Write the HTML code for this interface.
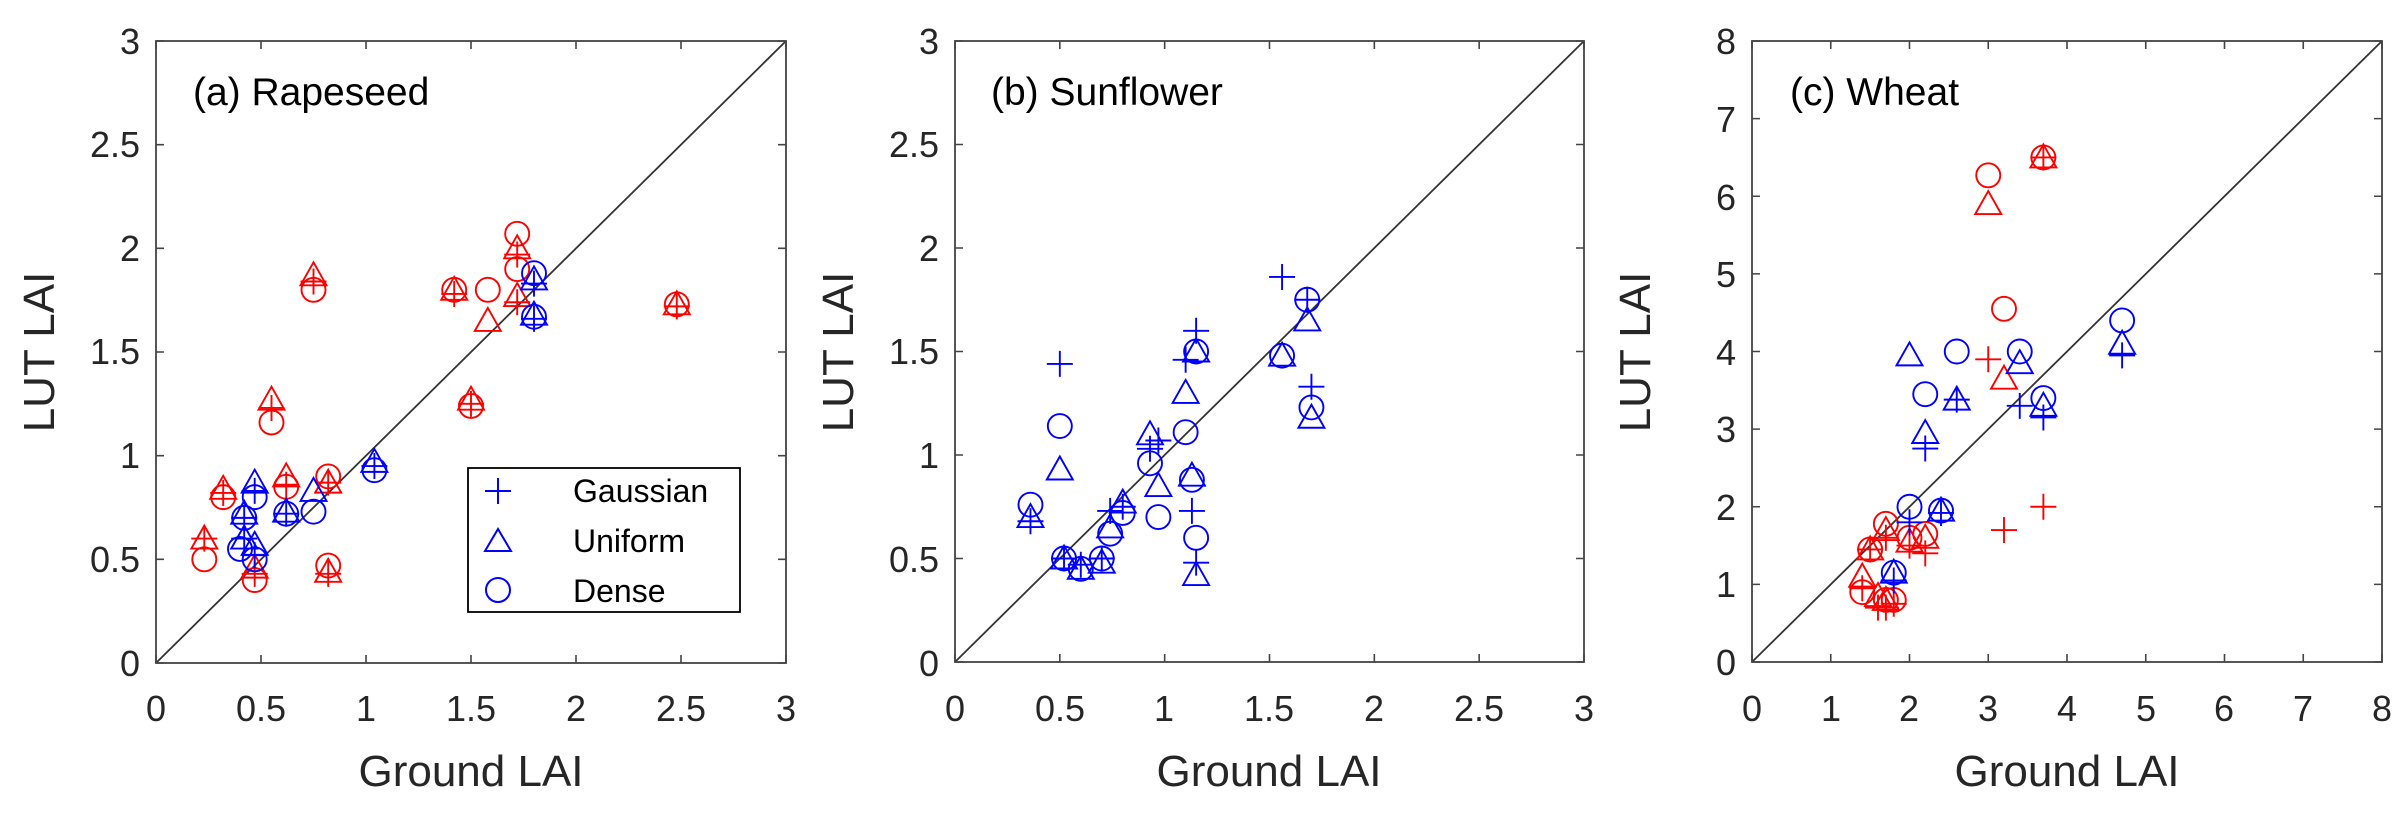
<!DOCTYPE html>
<html><head><meta charset="utf-8"><style>
html,body{margin:0;padding:0;background:#fff;}
svg text{font-family:"Liberation Sans",sans-serif;fill:#262626;}
</style></head><body>
<svg id="s" xmlns="http://www.w3.org/2000/svg" width="2400" height="819" viewBox="0 0 2400 819">
<rect width="2400" height="819" fill="#fff"/>
<g id="plots"></g>
<g font-size="36" text-anchor="middle">
<text x="156" y="721">0</text><text x="261" y="721">0.5</text><text x="366" y="721">1</text><text x="471" y="721">1.5</text><text x="576" y="721">2</text><text x="681" y="721">2.5</text><text x="786" y="721">3</text>
<text x="955" y="721">0</text><text x="1060" y="721">0.5</text><text x="1164" y="721">1</text><text x="1269" y="721">1.5</text><text x="1374" y="721">2</text><text x="1479" y="721">2.5</text><text x="1584" y="721">3</text>
<text x="1752" y="721">0</text><text x="1831" y="721">1</text><text x="1909" y="721">2</text><text x="1988" y="721">3</text><text x="2067" y="721">4</text><text x="2146" y="721">5</text><text x="2224" y="721">6</text><text x="2303" y="721">7</text><text x="2382" y="721">8</text>
</g>
<g font-size="36" text-anchor="end">
<text x="140" y="676">0</text><text x="140" y="572">0.5</text><text x="140" y="468">1</text><text x="140" y="364">1.5</text><text x="140" y="261">2</text><text x="140" y="157">2.5</text><text x="140" y="54">3</text>
<text x="939" y="676">0</text><text x="939" y="572">0.5</text><text x="939" y="468">1</text><text x="939" y="364">1.5</text><text x="939" y="261">2</text><text x="939" y="157">2.5</text><text x="939" y="54">3</text>
<text x="1736" y="675">0</text><text x="1736" y="597">1</text><text x="1736" y="520">2</text><text x="1736" y="442">3</text><text x="1736" y="365">4</text><text x="1736" y="287">5</text><text x="1736" y="210">6</text><text x="1736" y="132">7</text><text x="1736" y="54">8</text>
</g>
<g font-size="44" text-anchor="middle">
<text x="471" y="786">Ground LAI</text><text x="1269" y="786">Ground LAI</text><text x="2067" y="786">Ground LAI</text>
<text transform="translate(54,352) rotate(-90)">LUT LAI</text>
<text transform="translate(853,352) rotate(-90)">LUT LAI</text>
<text transform="translate(1650,352) rotate(-90)">LUT LAI</text>
</g>
<g font-size="39">
<text x="193" y="105" style="fill:#000">(a) Rapeseed</text>
<text x="991" y="105" style="fill:#000">(b) Sunflower</text>
<text x="1790" y="105" style="fill:#000">(c) Wheat</text>
</g>
<rect x="468" y="468" width="272" height="144" fill="#fff" stroke="#000" stroke-width="1.8"/>
<g stroke="#00f" stroke-width="2" fill="none">
<path d="M485 491h26M498 478v26"/>
<path d="M485 551L498 529L511 551Z"/>
<circle cx="498" cy="590" r="12"/>
</g>
<g font-size="32"><text x="573" y="502" style="fill:#000">Gaussian</text><text x="573" y="552" style="fill:#000">Uniform</text><text x="573" y="602" style="fill:#000">Dense</text></g>
</svg>
<script>
var NS="http://www.w3.org/2000/svg",g=document.getElementById('plots');
function el(t,a){var e=document.createElementNS(NS,t);for(var k in a)e.setAttribute(k,a[k]);g.appendChild(e);return e;}
var P=[{l:156,r:786,t:41,b:663,m:3,nt:6},{l:955,r:1584,t:41,b:662,m:3,nt:6},{l:1752,r:2382,t:41,b:662,m:8,nt:8}];
P.forEach(function(p){
 el('line',{x1:p.l,y1:p.b,x2:p.r,y2:p.t,stroke:'#333','stroke-width':1.8});
 var d='';
 for(var i=0;i<=p.nt;i++){var x=p.l+(p.r-p.l)*i/p.nt,y=p.b-(p.b-p.t)*i/p.nt;
  d+='M'+x+' '+p.b+'v-8M'+x+' '+p.t+'v8M'+p.l+' '+y+'h8M'+p.r+' '+y+'h-8';}
 el('path',{d:d,stroke:'#444','stroke-width':1.6,fill:'none'});
 el('rect',{x:p.l,y:p.t,width:p.r-p.l,height:p.b-p.t,fill:'none',stroke:'#444','stroke-width':1.8});
});
function mk(pi,c,type,x,y){var p=P[pi];var X=p.l+(p.r-p.l)*x/p.m,Y=p.b-(p.b-p.t)*y/p.m;
 var col=c=='r'?'#f00':'#00f',a={stroke:col,'stroke-width':1.9,fill:'none'};
 if(type=='p'){a.d='M'+(X-13)+' '+Y+'h26M'+X+' '+(Y-13)+'v26';el('path',a);}
 else if(type=='t'){a.d='M'+(X-13)+' '+(Y+10)+'L'+X+' '+(Y-13)+'L'+(X+13)+' '+(Y+10)+'Z';el('path',a);}
 else{a.cx=X;a.cy=Y;a.r=12;el('circle',a);}}
function grp(pi,c,x,t,p,o){if(t!=null)mk(pi,c,'t',x,t);if(p!=null)mk(pi,c,'p',x,p);if(o!=null)mk(pi,c,'o',x,o);}
[[0.23,0.6,0.6,0.5],[0.32,0.84,0.82,0.8],[0.47,0.46,0.43,0.4],[0.55,1.27,1.23,1.16],[0.62,0.9,0.86,0.85],[0.75,1.87,1.84,1.8],[0.82,0.87,0.87,0.9],[0.82,0.44,0.43,0.47],[1.42,1.8,1.78,1.8],[1.5,1.27,1.25,1.24],[1.58,1.65,null,1.8],[1.72,2.0,1.97,2.07],[1.72,null,null,1.9],[1.72,1.77,1.74,null],[2.48,1.73,1.72,1.73]].forEach(function(a){grp(0,'r',a[0],a[1],a[2],a[3]);});
[[0.42,0.72,0.7,0.7],[0.42,0.6,0.6,null],[0.4,null,null,0.55],[0.47,0.87,0.83,0.8],[0.47,0.57,0.52,0.5],[0.62,0.73,0.72,0.72],[0.75,0.83,null,0.73],[1.04,0.97,0.95,0.93],[1.8,1.85,1.83,1.88],[1.8,1.68,1.66,1.67]].forEach(function(a){grp(0,'b',a[0],a[1],a[2],a[3]);});
[[0.36,0.7,0.68,0.76],[0.5,0.93,1.44,1.14],[0.52,0.5,0.5,0.5],[0.6,0.45,0.47,0.45],[0.7,0.48,0.5,0.5],[0.74,0.65,0.73,0.62],[0.8,0.77,0.75,0.72],[0.93,1.1,1.03,0.96],[0.97,0.85,1.07,0.7],[1.1,1.3,1.46,1.11],[1.15,1.5,1.6,1.5],[1.13,0.9,0.73,0.88],[1.15,0.42,0.48,0.6],[1.56,1.48,1.86,1.48],[1.68,1.65,1.75,1.75],[1.7,1.18,1.33,1.23]].forEach(function(a){grp(1,'b',a[0],a[1],a[2],a[3]);});
[[3.0,5.9,null,6.27],[3.7,6.5,6.5,6.5],[3.2,3.65,null,4.55],[3.0,null,3.9,null],[3.2,null,1.7,null],[3.7,null,2.0,null],[1.7,1.7,1.6,1.78],[1.5,1.45,1.45,1.45],[1.4,1.1,0.95,0.9],[1.7,0.8,0.7,0.8],[1.8,null,0.75,0.8],[2.0,1.55,1.5,1.6],[2.2,1.6,1.4,1.65],[1.6,0.85,0.7,null]].forEach(function(a){grp(2,'r',a[0],a[1],a[2],a[3]);});
[[2.0,3.95,null,null],[2.6,3.38,3.38,4.0],[2.2,2.95,2.75,3.45],[3.4,3.85,3.3,4.0],[3.7,3.3,3.15,3.4],[4.7,4.1,3.95,4.4],[2.0,null,1.8,2.0],[2.4,1.95,1.92,1.95],[1.8,1.15,1.05,1.15]].forEach(function(a){grp(2,'b',a[0],a[1],a[2],a[3]);});
</script>
</body></html>
